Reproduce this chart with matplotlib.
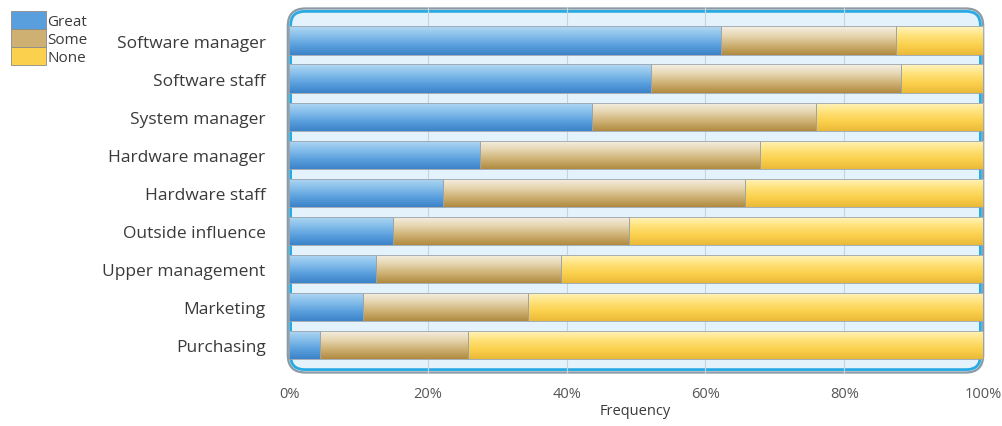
import numpy as np
import matplotlib
matplotlib.use("Agg")
import matplotlib.pyplot as plt
from matplotlib.colors import LinearSegmentedColormap
from matplotlib.patches import FancyBboxPatch, Patch

plt.rcParams["font.family"] = ["Open Sans", "DejaVu Sans"]

# 카테고리와 비율 (%)
categories = ["Software manager", "Software staff", "System manager",
              "Hardware manager", "Hardware staff", "Outside influence",
              "Upper management", "Marketing", "Purchasing"]
great = [62.2, 52.2, 43.7, 27.5, 22.2, 15.0, 12.5, 10.7, 4.5]
some = [25.2, 36.0, 32.2, 40.3, 43.5, 34.0, 26.7, 23.8, 21.3]
none = [12.6, 11.8, 24.1, 32.2, 34.3, 51.0, 60.8, 65.5, 74.2]
series_names = ["Great", "Some", "None"]
tick_vals = [0, 20, 40, 60, 80, 100]

# 그라데이션 색 (위 -> 아래)
grad_colors = {
    "Great": ["#b4d9f3", "#86bfeb", "#5a9fdd", "#3b82c9"],
    "Some": ["#f6f1e6", "#e6d6b2", "#cdb072", "#b08a40"],
    "None": ["#fff6c4", "#ffe27a", "#fbd04c", "#eab838"],
}
flat_colors = {"Great": "#5a9fdd", "Some": "#cdb072", "None": "#fbd04c"}

fig = plt.figure(figsize=(10.03, 4.27), dpi=100)
ax = fig.add_axes([285 / 1003, 52 / 427, 701 / 1003, 367 / 427])
ax.set_facecolor("none")

y = np.arange(len(categories))
left = np.zeros(len(categories))
bar_h = 0.74
gradient = np.linspace(0, 1, 256).reshape(-1, 1)

for name, vals in zip(series_names, [great, some, none]):
    bars = ax.barh(y, vals, left=left, height=bar_h, color="none",
                   edgecolor="#9aa4ad", linewidth=0.6, zorder=3)
    cmap = LinearSegmentedColormap.from_list(name, grad_colors[name])
    for b in bars:
        bx, by = b.get_x(), b.get_y()
        bw, bh = b.get_width(), b.get_height()
        im = ax.imshow(gradient, cmap=cmap, aspect="auto",
                       extent=(bx, bx + bw, by + bh, by), zorder=2,
                       interpolation="bilinear")
        im.set_clip_path(b)
    left = left + np.array(vals)

ax.set_xlim(-0.58, 100.43)
ax.set_ylim(8.76, -0.88)

# 바깥 둥근 테두리
frame = FancyBboxPatch((0.004, 0.004), 0.992, 0.992,
                       boxstyle="round,pad=0,rounding_size=0.025",
                       transform=ax.transAxes, facecolor="#e4f2fb",
                       edgecolor="#8c9aa6", linewidth=1.6, zorder=0,
                       clip_on=False, mutation_aspect=701 / 367)
ax.add_patch(frame)
inner = FancyBboxPatch((0.008, 0.012), 0.984, 0.976,
                       boxstyle="round,pad=0,rounding_size=0.02",
                       transform=ax.transAxes, facecolor="none",
                       edgecolor="#2aaae2", linewidth=2.0, zorder=1,
                       clip_on=False, mutation_aspect=701 / 367)
ax.add_patch(inner)

# 세로 기준선
for t in tick_vals[1:-1]:
    ax.axvline(t, color="#c5d3dc", linewidth=0.8, zorder=1)

for s in ax.spines.values():
    s.set_visible(False)

ax.set_yticks(y)
ax.set_yticklabels(categories, fontsize=12.5, color="#3a3a3a")
ax.tick_params(axis="y", length=0, pad=14)
ax.set_xticks(tick_vals)
ax.set_xticklabels([f"{t}%" for t in tick_vals], fontsize=10.5, color="#555555")
ax.tick_params(axis="x", length=0, pad=9)
ax.set_xlabel("Frequency", fontsize=10.5, color="#3a3a3a", labelpad=1)

# 범례
handles = [Patch(facecolor=flat_colors[n], edgecolor="#8a8a8a", linewidth=0.6)
           for n in series_names]
fig.legend(handles, series_names, loc="upper left",
           bbox_to_anchor=(0.0, 0.998), frameon=False, fontsize=11,
           handlelength=2.3, handleheight=1.45, labelspacing=0.0,
           handletextpad=0.1, borderpad=0.2, labelcolor="#3a3a3a")

fig.savefig("out.png", dpi=100)
